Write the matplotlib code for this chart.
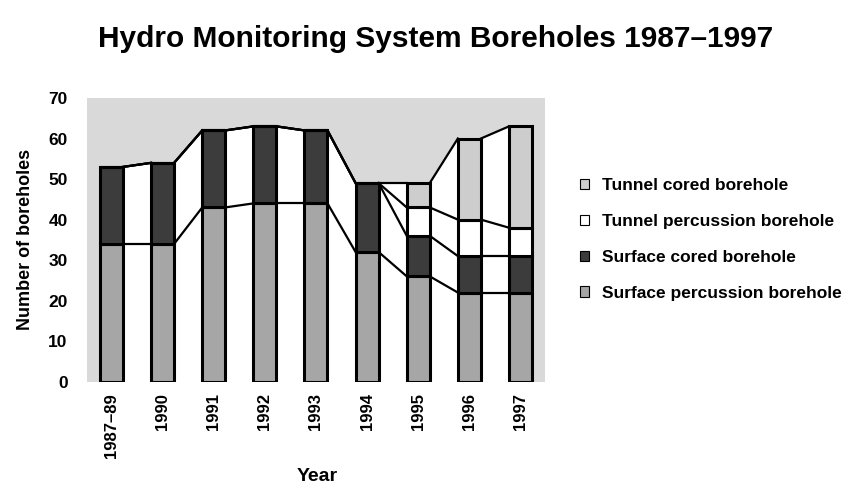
import numpy as np
import matplotlib.pyplot as plt
from matplotlib.patches import Patch

plt.rcParams['font.family'] = ['Liberation Sans', 'DejaVu Sans']
plt.rcParams['font.weight'] = 'bold'

years = ['1987\u201389', '1990', '1991', '1992', '1993', '1994', '1995', '1996', '1997']
surface_percussion = [34, 34, 43, 44, 44, 32, 26, 22, 22]
surface_cored = [19, 20, 19, 19, 18, 17, 10, 9, 9]
tunnel_percussion = [0, 0, 0, 0, 0, 0, 7, 9, 7]
tunnel_cored = [0, 0, 0, 0, 0, 0, 6, 20, 25]

series = [surface_percussion, surface_cored, tunnel_percussion, tunnel_cored]
names = ['Surface percussion borehole', 'Surface cored borehole',
         'Tunnel percussion borehole', 'Tunnel cored borehole']
colors = ['#a6a6a6', '#3c3c3c', '#ffffff', '#cdcdcd']

fig = plt.figure(figsize=(8.61, 4.90), dpi=100)
ax = fig.add_axes([0.101, 0.221, 0.532, 0.579])
ax.set_facecolor('#d9d9d9')

x = np.arange(len(years))
w = 0.45
tops = np.cumsum(np.array(series), axis=0)

# white band between neighbouring bars, under the total line
for i in range(len(years) - 1):
    xs = [x[i] + w / 2, x[i + 1] - w / 2]
    ax.fill_between(xs, [0, 0], [tops[-1][i], tops[-1][i + 1]],
                    color='white', lw=0, zorder=1)
    for lvl in tops:
        ax.plot(xs, [lvl[i], lvl[i + 1]], color='black', lw=1.6, zorder=2)

bottom = np.zeros(len(years))
for vals, name, c in zip(series, names, colors):
    ax.bar(x, vals, w, bottom=bottom, color=c, edgecolor='black',
           linewidth=2.2, zorder=3, label=name)
    bottom += np.array(vals)

ax.set_xlim(-0.48, 8.48)
ax.set_ylim(0, 70)
ax.set_yticks(range(0, 71, 10))
ax.set_xticks(x)
ax.set_xticklabels(years, rotation=90, fontsize=12, fontweight='bold')
ax.tick_params(axis='y', length=0, pad=14, labelsize=12.5)
ax.tick_params(axis='x', length=0, pad=8)
for s in ax.spines.values():
    s.set_visible(False)

ax.set_ylabel('Number of boreholes', fontsize=13, fontweight='bold', labelpad=10)
fig.text(0.369, 0.028, 'Year', fontsize=14, fontweight='bold', ha='center', va='center')
fig.text(0.506, 0.921, 'Hydro Monitoring System Boreholes 1987\u20131997',
         fontsize=21.5, fontweight='bold', ha='center', va='center')

handles = [Patch(facecolor=c, edgecolor='black', linewidth=0.8) for c in colors]
fig.legend(handles[::-1], names[::-1], loc='upper left',
           bbox_to_anchor=(0.655, 0.668), frameon=False, fontsize=12.5,
           handlelength=0.55, handleheight=0.55, handletextpad=0.75,
           labelspacing=1.2)

fig.savefig('out.png', dpi=100)
